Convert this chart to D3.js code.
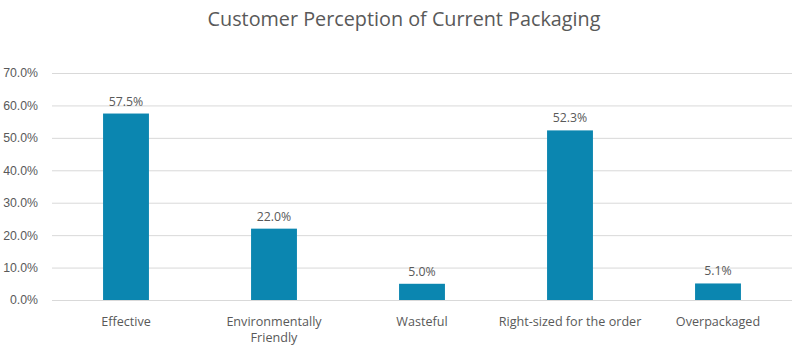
<!DOCTYPE html>
<html>
<head>
<meta charset="utf-8">
<script src="https://cdn.jsdelivr.net/npm/d3@7"></script>
<style>
  body { margin: 0; background: #fff; }
  svg { font-family: "Open Sans", "Liberation Sans", sans-serif; }
</style>
</head>
<body>
<svg id="chart" width="800" height="361"></svg>
<script>
// data
const categories = ["Effective", "Environmentally Friendly", "Wasteful", "Right-sized for the order", "Overpackaged"];
const shares = [0.575, 0.220, 0.050, 0.523, 0.051];
const yTicks = [0, 0.1, 0.2, 0.3, 0.4, 0.5, 0.6, 0.7];

const svg = d3.select("#chart");
const margin = {top: 73, left: 52, right: 8, bottom: 61};
const width = 800, height = 361;

const x = d3.scaleBand()
  .domain(categories)
  .range([margin.left, width - margin.right])
  .paddingInner(0.69)
  .paddingOuter(0.345);

const y = d3.scaleLinear()
  .domain([0, 0.7])
  .range([height - margin.bottom, margin.top]);

const pct = d3.format(".1%");
const textCol = "#595959";

// title
svg.append("text")
  .attr("x", 404)
  .attr("y", 26)
  .attr("text-anchor", "middle")
  .attr("fill", textCol)
  .style("font-size", "19.8px")
  .text("Customer Perception of Current Packaging");

// gridlines + y labels
const yAxis = d3.axisLeft(y)
  .tickValues(yTicks)
  .tickFormat(pct)
  .tickSize(-(width - margin.left - margin.right))
  .tickPadding(14);

const gy = svg.append("g")
  .attr("transform", `translate(${margin.left},0)`)
  .call(yAxis);
gy.select(".domain").remove();
gy.selectAll(".tick line").attr("stroke", "#d9d9d9");
gy.selectAll(".tick text")
  .attr("fill", textCol)
  .style("font-size", "12.3px");

// bars
svg.append("g").selectAll("rect")
  .data(shares)
  .join("rect")
  .attr("x", (d, i) => x(categories[i]))
  .attr("width", x.bandwidth())
  .attr("y", d => y(d))
  .attr("height", d => y(0) - y(d))
  .attr("fill", "#0b86b0");

// data labels
svg.append("g").selectAll("text")
  .data(shares)
  .join("text")
  .attr("x", (d, i) => x(categories[i]) + x.bandwidth() / 2)
  .attr("y", d => y(d) - 8)
  .attr("text-anchor", "middle")
  .attr("fill", textCol)
  .style("font-size", "12.3px")
  .text(d => pct(d));

// category labels, wrapped like the original
const catLines = {
  "Environmentally Friendly": ["Environmentally", "Friendly"]
};
const gx = svg.append("g");
categories.forEach(c => {
  const lines = catLines[c] || [c];
  const t = gx.append("text")
    .attr("x", x(c) + x.bandwidth() / 2)
    .attr("y", 326)
    .attr("text-anchor", "middle")
    .attr("fill", textCol)
    .style("font-size", "12.6px");
  lines.forEach((l, k) => {
    t.append("tspan")
      .attr("x", x(c) + x.bandwidth() / 2)
      .attr("dy", k === 0 ? 0 : 16)
      .text(l);
  });
});
</script>
</body>
</html>
